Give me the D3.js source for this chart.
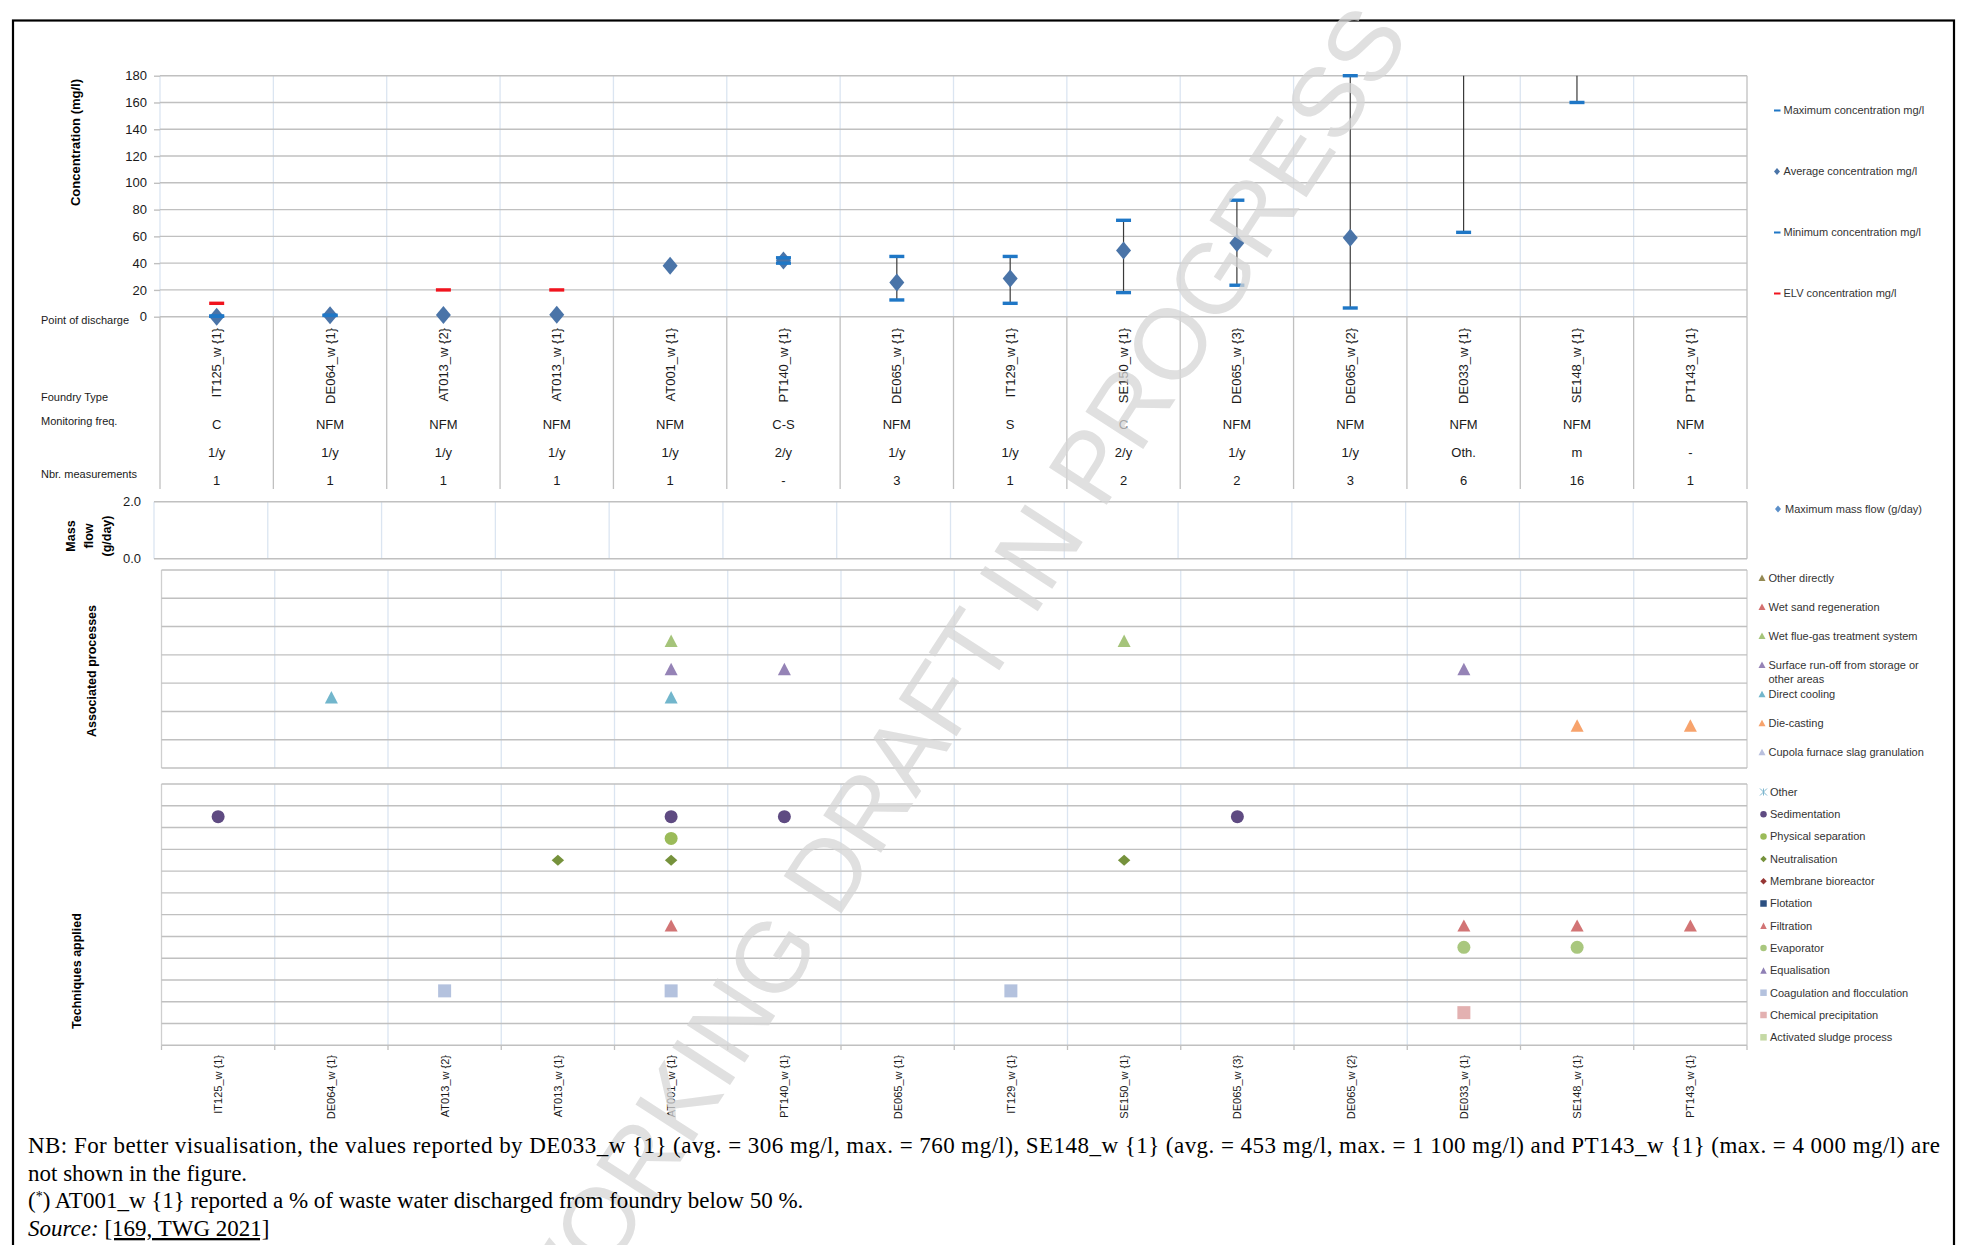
<!DOCTYPE html>
<html><head><meta charset="utf-8">
<script src="https://cdn.jsdelivr.net/npm/d3@7"></script>
<style>html,body{margin:0;padding:0;background:#fff;} svg{display:block;}</style>
</head><body><svg id="chart" width="1966" height="1245"></svg>
<script>
// ---------------- DATA ----------------
const categories = ["IT125_w {1}","DE064_w {1}","AT013_w {2}","AT013_w {1}","AT001_w {1}","PT140_w {1}","DE065_w {1}","IT129_w {1}","SE150_w {1}","DE065_w {3}","DE065_w {2}","DE033_w {1}","SE148_w {1}","PT143_w {1}"];
const foundryType = ["C","NFM","NFM","NFM","NFM","C-S","NFM","S","C","NFM","NFM","NFM","NFM","NFM"];
const monitoringFreq = ["1/y","1/y","1/y","1/y","1/y","2/y","1/y","1/y","2/y","1/y","1/y","Oth.","m","-"];
const nbrMeasurements = ["1","1","1","1","1","-","3","1","2","2","3","6","16","1"];
const maxConc = [0.5, 1, null, null, null, 44, 45, 45, 72, 87, 180, 760, 1100, 4000];
const avgConc = [0, 1, 1.3, 1.5, 38, 42, 25.5, 28.5, 49.5, 55, 59, 306, 453, null];
const minConc = [0.3, 1, null, null, null, 40, 12.5, 10, 18, 23.5, 6.5, 63, 160, null];
const elvConc = [10, null, 20, 20, null, null, null, null, null, null, null, null, null, null];
const maxMassFlow = [null, null, null, null, null, null, null, null, null, null, null, null, null, null];
const concTicks = [0, 20, 40, 60, 80, 100, 120, 140, 160, 180];
const massTicks = [0, 2];
const concLegend = ["Maximum concentration mg/l","Average concentration mg/l","Minimum concentration mg/l","ELV concentration mg/l"];
const massLegend = ["Maximum mass flow (g/day)"];

const assocProcesses = ["Other directly","Wet sand regeneration","Wet flue-gas treatment system","Surface run-off from storage or other areas","Direct cooling","Die-casting","Cupola furnace slag granulation"];
const assocColors = ["#948a54","#d47070","#a5c47a","#9583b6","#72b6cc","#f7a36c","#b9c0de"];
const assocPoints = [
  ["DE064_w {1}","Direct cooling"],
  ["AT001_w {1}","Wet flue-gas treatment system"],
  ["AT001_w {1}","Surface run-off from storage or other areas"],
  ["AT001_w {1}","Direct cooling"],
  ["PT140_w {1}","Surface run-off from storage or other areas"],
  ["SE150_w {1}","Wet flue-gas treatment system"],
  ["DE033_w {1}","Surface run-off from storage or other areas"],
  ["SE148_w {1}","Die-casting"],
  ["PT143_w {1}","Die-casting"]
];

const techniques = ["Other","Sedimentation","Physical separation","Neutralisation","Membrane bioreactor","Flotation","Filtration","Evaporator","Equalisation","Coagulation and flocculation","Chemical precipitation","Activated sludge process"];
const techShapes = ["asterisk","circle","circle","diamond","diamond","square","triangle","circle","triangle","square","square","square"];
const techColors = ["#7fb7cf","#5f4b82","#9bbb59","#76923c","#963634","#2b4f81","#d27475","#a9c77e","#8f80b5","#b4c2de","#e3b1b1","#c5d9a5"];
const techPoints = [
  ["IT125_w {1}","Sedimentation"],
  ["AT013_w {2}","Coagulation and flocculation"],
  ["AT013_w {1}","Neutralisation"],
  ["AT001_w {1}","Sedimentation"],
  ["AT001_w {1}","Physical separation"],
  ["AT001_w {1}","Neutralisation"],
  ["AT001_w {1}","Filtration"],
  ["AT001_w {1}","Coagulation and flocculation"],
  ["PT140_w {1}","Sedimentation"],
  ["IT129_w {1}","Coagulation and flocculation"],
  ["SE150_w {1}","Neutralisation"],
  ["DE065_w {3}","Sedimentation"],
  ["DE033_w {1}","Filtration"],
  ["DE033_w {1}","Evaporator"],
  ["DE033_w {1}","Chemical precipitation"],
  ["SE148_w {1}","Filtration"],
  ["SE148_w {1}","Evaporator"],
  ["PT143_w {1}","Filtration"]
];

const noteLine1 = "NB: For better visualisation, the values reported by DE033_w {1} (avg. = 306 mg/l, max. = 760 mg/l), SE148_w {1} (avg. = 453 mg/l, max. = 1 100 mg/l) and PT143_w {1} (max. = 4 000 mg/l) are";
const noteLine2 = "not shown in the figure.";
const noteLine3 = " AT001_w {1} reported a % of waste water discharged from foundry below 50 %.";
const sourceRef = "[169, TWG 2021]";
const watermark = "WORKING DRAFT IN PROGRESS";

// ---------------- DRAWING ----------------
const W = 1966, H = 1245;
const FONT = "'Liberation Sans', Arial, sans-serif";
const svg = d3.select("#chart").attr("font-family", FONT);
svg.append("rect").attr("width", W).attr("height", H).attr("fill", "#fff");

const GRID = "#c0c0c0", LIGHT = "#dbe5f1", TXT = "#1a1a1a";

function shapePath(type, w, h) {
  h = h || w;
  const a = w / 2, b = h / 2;
  switch (type) {
    case "diamond": return `M0,${-b}L${a},0L0,${b}L${-a},0Z`;
    case "triangle": return `M0,${-b}L${a},${b}L${-a},${b}Z`;
    case "square": return `M${-a},${-b}H${a}V${b}H${-a}Z`;
    case "circle": return `M${-a},0A${a},${b} 0 1,0 ${a},0A${a},${b} 0 1,0 ${-a},0Z`;
    case "asterisk": return `M${-a},${-b}L${a},${b}M${-a},${b}L${a},${-b}M0,${-b}V${b}`;
  }
}

// frame
svg.append("rect").attr("x", 13).attr("y", 20.5).attr("width", 1941).attr("height", 1300)
  .attr("fill", "none").attr("stroke", "#000").attr("stroke-width", 2.2);

// ===== Top panel: concentrations =====
const xTop = d3.scaleBand().domain(categories).range([160, 1747]);
const yConc = d3.scaleLinear().domain([0, 180]).range([316.7, 75.7]);
const edges = sc => categories.map(c => sc(c)).concat([sc.range()[1]]);
const cx = (sc, c) => sc(c) + sc.bandwidth() / 2;

const gTop = svg.append("g");
gTop.selectAll("line.vl").data(edges(xTop)).join("line")
  .attr("x1", d => d).attr("x2", d => d).attr("y1", yConc(180)).attr("y2", yConc(0))
  .attr("stroke", (d, i) => i === categories.length ? GRID : LIGHT).attr("stroke-width", 1.3);
gTop.selectAll("line.tl").data(edges(xTop)).join("line")
  .attr("x1", d => d).attr("x2", d => d).attr("y1", yConc(0)).attr("y2", 489)
  .attr("stroke", GRID).attr("stroke-width", 1.3);
gTop.selectAll("line.hl").data(concTicks).join("line")
  .attr("x1", 160).attr("x2", 1747).attr("y1", d => yConc(d)).attr("y2", d => yConc(d))
  .attr("stroke", GRID).attr("stroke-width", 1.4);

const gy = svg.append("g").attr("transform", "translate(160,0)")
  .call(d3.axisLeft(yConc).tickValues(concTicks).tickSize(6).tickPadding(7));
gy.select(".domain").remove();
gy.selectAll(".tick line").attr("stroke", GRID).attr("stroke-width", 1.4);
gy.selectAll("text").attr("font-size", 13).attr("fill", TXT).attr("font-family", FONT);

svg.append("text").attr("transform", `translate(75,142.5) rotate(-90)`)
  .attr("text-anchor", "middle").attr("dominant-baseline", "central")
  .attr("font-size", 13).attr("font-weight", "bold").attr("fill", "#000").text("Concentration (mg/l)");

const rows = categories.map((c, i) => ({ c, max: maxConc[i], avg: avgConc[i], min: minConc[i], elv: elvConc[i] }));
const yTopMax = yConc.domain()[1];
const gS = svg.append("g");
gS.selectAll("line.hl").data(rows.filter(d => d.min != null && d.max != null)).join("line")
  .attr("x1", d => cx(xTop, d.c)).attr("x2", d => cx(xTop, d.c))
  .attr("y1", d => yConc(d.min)).attr("y2", d => yConc(Math.min(d.max, yTopMax)))
  .attr("stroke", "#3a3a3a").attr("stroke-width", 1.2);
gS.selectAll("path.avg").data(rows.filter(d => d.avg != null && d.avg <= yTopMax)).join("path")
  .attr("d", shapePath("diamond", 15, 18))
  .attr("transform", d => `translate(${cx(xTop, d.c)},${yConc(d.avg)})`)
  .attr("fill", "#4a74a8");
const caps = [];
rows.forEach(d => { if (d.max != null && d.max <= yTopMax) caps.push({ c: d.c, v: d.max }); if (d.min != null) caps.push({ c: d.c, v: d.min }); });
gS.selectAll("rect.cap").data(caps).join("rect")
  .attr("x", d => cx(xTop, d.c) - 7.5).attr("y", d => yConc(d.v) - 1.7).attr("width", 15).attr("height", 3.4)
  .attr("fill", "#1f77c6");
gS.selectAll("rect.elv").data(rows.filter(d => d.elv != null)).join("rect")
  .attr("x", d => cx(xTop, d.c) - 7.5).attr("y", d => yConc(d.elv) - 1.7).attr("width", 15).attr("height", 3.4)
  .attr("fill", "#f0141e");

svg.append("g").selectAll("text").data(categories).join("text")
  .attr("transform", d => `translate(${cx(xTop, d)},328) rotate(-90)`)
  .attr("text-anchor", "end").attr("dominant-baseline", "central")
  .attr("font-size", 13).attr("fill", TXT).text(d => d);

const tableRows = [[foundryType, 424], [monitoringFreq, 452], [nbrMeasurements, 480]];
tableRows.forEach(([arr, y]) => {
  svg.append("g").selectAll("text").data(arr).join("text")
    .attr("x", (d, i) => cx(xTop, categories[i])).attr("y", y).attr("dy", "0.35em")
    .attr("text-anchor", "middle").attr("font-size", 13).attr("fill", TXT).text(d => d);
});
[["Point of discharge", 320], ["Foundry Type", 397], ["Monitoring freq.", 421.5], ["Nbr. measurements", 474]].forEach(([t, y]) => {
  svg.append("text").attr("x", 41).attr("y", y).attr("dy", "0.35em").attr("font-size", 11).attr("fill", TXT).text(t);
});

// ===== Mass flow panel =====
const xMass = d3.scaleBand().domain(categories).range([154, 1747]);
const yMass = d3.scaleLinear().domain([0, 2]).range([558.7, 501.7]);
const gM = svg.append("g");
gM.selectAll("line.v").data(edges(xMass)).join("line")
  .attr("x1", d => d).attr("x2", d => d).attr("y1", yMass(2)).attr("y2", yMass(0))
  .attr("stroke", (d, i) => i === categories.length ? GRID : LIGHT).attr("stroke-width", 1.3);
gM.selectAll("line.h").data(massTicks).join("line")
  .attr("x1", 154).attr("x2", 1747).attr("y1", d => yMass(d)).attr("y2", d => yMass(d))
  .attr("stroke", GRID).attr("stroke-width", 1.4);
const gym = svg.append("g").attr("transform", "translate(154,0)")
  .call(d3.axisLeft(yMass).tickValues(massTicks).tickFormat(d3.format(".1f")).tickSize(0).tickPadding(13));
gym.select(".domain").remove();
gym.selectAll("text").attr("font-size", 13).attr("fill", TXT).attr("font-family", FONT);
gM.selectAll("path.mf").data(categories.map((c, i) => ({ c, v: maxMassFlow[i] })).filter(d => d.v != null)).join("path")
  .attr("d", shapePath("diamond", 10, 12)).attr("fill", "#4f81bd")
  .attr("transform", d => `translate(${cx(xMass, d.c)},${yMass(d.v)})`);
["Mass", "flow", "(g/day)"].forEach((t, i) => {
  svg.append("text").attr("transform", `translate(${70.5 + i * 18.2},536) rotate(-90)`)
    .attr("text-anchor", "middle").attr("dominant-baseline", "central")
    .attr("font-size", 12.5).attr("font-weight", "bold").attr("fill", "#000").text(t);
});

// ===== Associated processes panel =====
const xLow = d3.scaleBand().domain(categories).range([161.5, 1747]);
const yAssoc = d3.scaleBand().domain(assocProcesses).range([570, 768]);
const gA = svg.append("g");
gA.selectAll("line.v").data(edges(xLow)).join("line")
  .attr("x1", d => d).attr("x2", d => d).attr("y1", 570).attr("y2", 768)
  .attr("stroke", (d, i) => (i === 0 || i === categories.length) ? "#cfcfcf" : LIGHT).attr("stroke-width", 1.3);
gA.selectAll("line.h").data(assocProcesses.map(p => yAssoc(p)).concat([768])).join("line")
  .attr("x1", 161.5).attr("x2", 1747).attr("y1", d => d).attr("y2", d => d)
  .attr("stroke", GRID).attr("stroke-width", 1.4);
gA.selectAll("path.pt").data(assocPoints).join("path")
  .attr("d", shapePath("triangle", 13, 12.5))
  .attr("fill", d => assocColors[assocProcesses.indexOf(d[1])])
  .attr("transform", d => `translate(${cx(xLow, d[0])},${yAssoc(d[1]) + yAssoc.bandwidth() / 2})`);
svg.append("text").attr("transform", `translate(91.5,671) rotate(-90)`)
  .attr("text-anchor", "middle").attr("dominant-baseline", "central")
  .attr("font-size", 12.5).attr("font-weight", "bold").attr("fill", "#000").text("Associated processes");

// ===== Techniques panel =====
const yTech = d3.scaleBand().domain(techniques).range([784, 1045.3]);
const gT = svg.append("g");
gT.selectAll("line.v").data(edges(xLow)).join("line")
  .attr("x1", d => d).attr("x2", d => d).attr("y1", 784).attr("y2", 1045.3)
  .attr("stroke", (d, i) => (i === 0 || i === categories.length) ? "#cfcfcf" : LIGHT).attr("stroke-width", 1.3);
gT.selectAll("line.h").data(techniques.map(p => yTech(p)).concat([1045.3])).join("line")
  .attr("x1", 161.5).attr("x2", 1747).attr("y1", d => d).attr("y2", d => d)
  .attr("stroke", GRID).attr("stroke-width", 1.4);
gT.selectAll("line.tk").data(edges(xLow)).join("line")
  .attr("x1", d => d).attr("x2", d => d).attr("y1", 1045.3).attr("y2", 1050)
  .attr("stroke", GRID).attr("stroke-width", 1.3);
const techSize = { circle: [13, 13], diamond: [12.5, 11], triangle: [13, 12], square: [13, 13], asterisk: [9, 9] };
gT.selectAll("path.pt").data(techPoints).join("path")
  .attr("d", d => { const s = techShapes[techniques.indexOf(d[1])]; return shapePath(s, techSize[s][0], techSize[s][1]); })
  .attr("fill", d => techShapes[techniques.indexOf(d[1])] === "asterisk" ? "none" : techColors[techniques.indexOf(d[1])])
  .attr("stroke", d => techShapes[techniques.indexOf(d[1])] === "asterisk" ? techColors[techniques.indexOf(d[1])] : "none")
  .attr("transform", d => `translate(${cx(xLow, d[0])},${yTech(d[1]) + yTech.bandwidth() / 2})`);
svg.append("text").attr("transform", `translate(77,971) rotate(-90)`)
  .attr("text-anchor", "middle").attr("dominant-baseline", "central")
  .attr("font-size", 12.5).attr("font-weight", "bold").attr("fill", "#000").text("Techniques applied");
svg.append("g").selectAll("text").data(categories).join("text")
  .attr("transform", d => `translate(${cx(xLow, d)},1055) rotate(-90)`)
  .attr("text-anchor", "end").attr("dominant-baseline", "central")
  .attr("font-size", 11).attr("fill", TXT).text(d => d);

// ===== Legends =====
const LG = "#333";
const yLegC = d3.scalePoint().domain(concLegend).range([110.5, 293.5]);
const gL = svg.append("g");
concLegend.forEach((t, i) => {
  const y = yLegC(t);
  if (i === 1) gL.append("path").attr("d", shapePath("diamond", 6, 7)).attr("fill", "#4a74a8").attr("transform", `translate(1777,${y})`);
  else gL.append("rect").attr("x", 1774).attr("y", y - 1).attr("width", 6.5).attr("height", 2).attr("fill", i === 3 ? "#f0141e" : "#1f77c6");
  gL.append("text").attr("x", 1783.5).attr("y", y).attr("dy", "0.35em").attr("font-size", 11).attr("fill", LG).text(t);
});
massLegend.forEach(t => {
  gL.append("path").attr("d", shapePath("diamond", 6, 7)).attr("fill", "#5b8fc9").attr("transform", `translate(1778,509)`);
  gL.append("text").attr("x", 1785).attr("y", 509).attr("dy", "0.35em").attr("font-size", 11).attr("fill", LG).text(t);
});
const yLegA = d3.scalePoint().domain(assocProcesses).range([577.7, 752]);
assocProcesses.forEach((t, i) => {
  const y = yLegA(t);
  gL.append("path").attr("d", shapePath("triangle", 7, 6.5)).attr("fill", assocColors[i]).attr("transform", `translate(1762,${y})`);
  const words = t === "Surface run-off from storage or other areas" ? ["Surface run-off from storage or", "other areas"] : [t];
  words.forEach((w, k) => gL.append("text").attr("x", 1768.5).attr("y", y + k * 14.5).attr("dy", "0.35em")
    .attr("font-size", 11).attr("fill", LG).text(w));
});
const yLegT = d3.scalePoint().domain(techniques).range([792, 1037.3]);
techniques.forEach((t, i) => {
  const y = yLegT(t), s = techShapes[i];
  gL.append("path").attr("d", shapePath(s, s === "asterisk" ? 7 : 6.5, s === "asterisk" ? 7 : 6.5))
    .attr("fill", s === "asterisk" ? "none" : techColors[i]).attr("stroke", s === "asterisk" ? techColors[i] : "none")
    .attr("transform", `translate(1763.5,${y})`);
  gL.append("text").attr("x", 1770).attr("y", y).attr("dy", "0.35em").attr("font-size", 11).attr("fill", LG).text(t);
});

// ===== Watermark =====
svg.append("text").attr("transform", "translate(954,676) rotate(-57)")
  .attr("text-anchor", "middle").attr("dominant-baseline", "central")
  .attr("font-size", 100).attr("fill", "#d6d6d6").attr("opacity", 0.75).text(watermark);

// ===== Notes =====
const SERIF = "'Liberation Serif', 'Times New Roman', serif";
const gN = svg.append("g").attr("font-family", SERIF).attr("font-size", 23).attr("fill", "#000");
gN.append("text").attr("x", 28).attr("y", 1153).attr("textLength", 1912).attr("lengthAdjust", "spacing").text(noteLine1);
gN.append("text").attr("x", 28).attr("y", 1181).text(noteLine2);
const t3 = gN.append("text").attr("x", 28).attr("y", 1208);
t3.append("tspan").text("(");
t3.append("tspan").attr("font-size", 14).attr("baseline-shift", "super").text("*");
t3.append("tspan").text(")" + noteLine3);
const t4 = gN.append("text").attr("x", 28).attr("y", 1236);
t4.append("tspan").attr("font-style", "italic").text("Source:");
t4.append("tspan").text(" ");
t4.append("tspan").attr("text-decoration", "underline").text(sourceRef);
</script></body></html>
